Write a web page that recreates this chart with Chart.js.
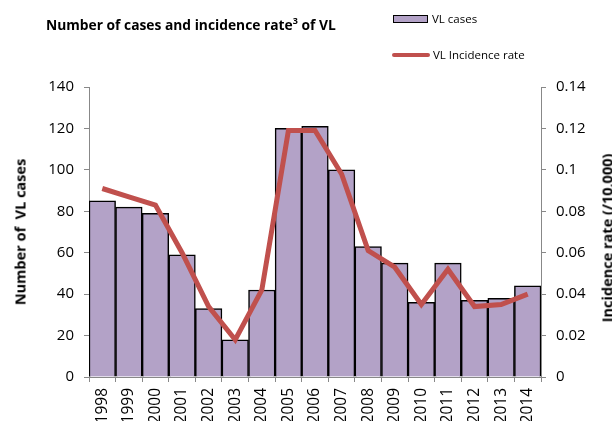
<!DOCTYPE html>
<html>
<head>
<meta charset="utf-8">
<script src="https://cdn.jsdelivr.net/npm/chart.js@4"></script>
<style>
  body { margin: 0; background: #fff; }
  #wrap { position: relative; width: 612px; height: 421px; overflow: hidden; font-family: "Open Sans", "Liberation Sans", sans-serif; }
  canvas { position: absolute; left: 0; top: 0; }
  .txt { position: absolute; white-space: nowrap; color: #000; }
  .rot { transform: translate(-50%, -50%) rotate(-90deg); font-weight: bold; font-size: 14.5px; }
</style>
</head>
<body>
<div id="wrap">
  <canvas id="vlChart" width="612" height="421"></canvas>
  <div class="txt" style="left:46px; top:14px; font-size:13.8px; font-weight:bold;">Number of cases and incidence rate<sup style="font-size:9px;">3</sup> of VL</div>
  <div style="position:absolute; left:393px; top:15px; width:33px; height:6px; background:#B3A2C7; border:1.5px solid #000;"></div>
  <div class="txt" style="left:432px; top:11px; font-size:11.5px;">VL cases</div>
  <div style="position:absolute; left:392px; top:53px; width:38px; height:4px; background:#C0504D; border-radius:2px;"></div>
  <div class="txt" style="left:433px; top:47px; font-size:11.5px;">VL Incidence rate</div>
  <div class="txt rot" style="left:20px; top:232px;">Number of &nbsp;VL cases</div>
  <div class="txt rot" style="left:607px; top:238px;">Incidence rate (/10,000)</div>
</div>
<script>
// datos
const anios = ['1998','1999','2000','2001','2002','2003','2004','2005','2006','2007','2008','2009','2010','2011','2012','2013','2014'];
const casosVL = [85, 82, 79, 59, 33, 18, 42, 120, 121, 100, 63, 55, 36, 55, 37, 38, 44];
const tasaVL = [0.091, 0.087, 0.083, 0.060, 0.034, 0.018, 0.042, 0.119, 0.119, 0.098, 0.061, 0.053, 0.035, 0.052, 0.034, 0.035, 0.040];
const ticksCasos = [0, 20, 40, 60, 80, 100, 120, 140];
const ticksTasa = [0, 0.02, 0.04, 0.06, 0.08, 0.1, 0.12, 0.14];

const fuente = { family: '"Open Sans", "Liberation Sans", sans-serif', size: 15.5 };

const ctx = document.getElementById('vlChart').getContext('2d');
const chartVL = new Chart(ctx, {
  data: {
    labels: anios,
    datasets: [{
      type: 'line',
      label: 'VL Incidence rate',
      data: tasaVL,
      yAxisID: 'y1',
      borderColor: '#C0504D',
      borderWidth: 5,
      pointRadius: 0,
      tension: 0,
      order: 0
    }, {
      type: 'bar',
      label: 'VL cases',
      data: casosVL,
      yAxisID: 'y',
      backgroundColor: '#B3A2C7',
      borderColor: '#000',
      borderWidth: 1.5,
      categoryPercentage: 1,
      barPercentage: 1,
      order: 1
    }]
  },
  options: {
    responsive: false,
    animation: false,
    layout: { padding: { top: 87, left: 0, right: 0, bottom: 0 } },
    plugins: { legend: { display: false }, tooltip: { enabled: false } },
    scales: {
      x: {
        offset: true,
        grid: { display: true, drawOnChartArea: false, offset: true, tickLength: 5, color: '#888' },
        border: { color: '#888', width: 1 },
        ticks: { color: '#000', font: fuente, minRotation: 90, maxRotation: 90, padding: 6 },
        afterFit: scale => { scale.height = 44; }
      },
      y: {
        position: 'left',
        min: 0, max: 140,
        afterBuildTicks: scale => { scale.ticks = ticksCasos.map(v => ({ value: v })); },
        grid: { drawOnChartArea: false, tickLength: 5, color: '#888' },
        border: { color: '#888', width: 1 },
        ticks: { color: '#000', font: { ...fuente, size: 15 }, padding: 10 },
        afterFit: scale => { scale.width = 89; }
      },
      y1: {
        position: 'right',
        min: 0, max: 0.14,
        afterBuildTicks: scale => { scale.ticks = ticksTasa.map(v => ({ value: v })); },
        grid: { drawOnChartArea: false, tickLength: 5, color: '#888' },
        border: { color: '#888', width: 1 },
        ticks: { color: '#000', font: { ...fuente, size: 15 }, padding: 10, callback: v => String(Math.round(v * 100) / 100) },
        afterFit: scale => { scale.width = 71; }
      }
    }
  }
});
</script>
</body>
</html>
